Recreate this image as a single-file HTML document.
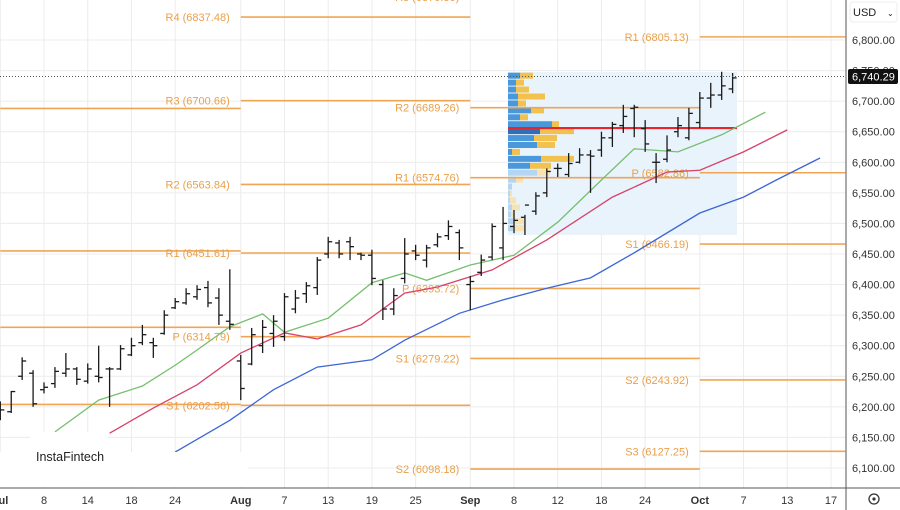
<!DOCTYPE html>
<html><head><meta charset="utf-8"><style>
html,body{margin:0;padding:0;background:#fff;}
body{width:900px;height:510px;overflow:hidden;font-family:"Liberation Sans",sans-serif;}
svg{display:block}
</style></head><body>
<svg id="chart" width="900" height="510" viewBox="0 0 900 510" xmlns="http://www.w3.org/2000/svg"></svg>
<script>
const highs=[6209,6226,6281,6260,6240,6265,6288,6265,6271,6300,6265,6301,6313,6334,6313,6358,6378,6394,6399,6406,6394,6425,6285,6329,6342,6350,6386,6391,6404,6445,6478,6473,6478,6452,6457,6407,6394,6476,6465,6465,6484,6505,6490,6414,6449,6500,6527,6522,6514,6551,6590,6598,6615,6623,6620,6650,6666,6694,6694,6669,6615,6644,6674,6689,6715,6730,6748,6746];
const lows=[6178,6190,6244,6200,6222,6231,6249,6236,6238,6240,6200,6260,6283,6301,6280,6318,6360,6367,6375,6363,6334,6326,6211,6268,6288,6298,6308,6353,6370,6383,6443,6443,6440,6440,6399,6342,6350,6402,6440,6428,6461,6473,6440,6358,6414,6440,6440,6484,6481,6514,6543,6576,6576,6598,6550,6609,6625,6648,6641,6617,6566,6600,6641,6636,6656,6689,6702,6713];
const opens=[6200,6192,6250,6255,6228,6238,6255,6262,6242,6250,6262,6262,6285,6305,6305,6320,6362,6370,6380,6395,6378,6340,6275,6270,6300,6320,6315,6360,6385,6395,6450,6468,6470,6450,6448,6400,6360,6410,6455,6440,6465,6480,6485,6400,6420,6445,6460,6495,6510,6520,6550,6590,6580,6600,6612,6620,6640,6660,6688,6655,6600,6605,6650,6640,6665,6705,6710,6720];
const closes=[6195,6225,6275,6205,6232,6258,6262,6245,6262,6248,6262,6295,6300,6318,6300,6350,6372,6385,6392,6370,6350,6335,6230,6318,6330,6340,6380,6378,6398,6440,6470,6450,6462,6448,6410,6360,6382,6450,6448,6460,6478,6495,6460,6405,6440,6495,6500,6505,6530,6545,6585,6590,6598,6612,6610,6640,6662,6675,6690,6630,6600,6620,6660,6680,6705,6710,6725,6738];
const dateIdx=[0,4,8,12,16,22,26,30,34,38,43,47,51,55,59,64,68,72,76];
const dateLbl=["Jul","8","14","18","24","Aug","7","13","19","25","Sep","8","12","18","24","Oct","7","13","17"];
const priceTicks=[6800,6750,6700,6650,6600,6550,6500,6450,6400,6350,6300,6250,6200,6150,6100];
const greenIdx=[5,9,13,16,18,21,24,26,30,34,37,39,43,45,47,51,55,58,62,66,70];
const greenVal=[6159,6211,6234,6268,6293,6331,6352,6322,6345,6403,6419,6407,6432,6440,6448,6502,6571,6622,6617,6645,6682];
const redIdx=[10,14,18,22,26,29,33,37,40,45,50,56,61,64,68,72];
const redVal=[6157,6198,6236,6288,6321,6311,6334,6386,6396,6424,6473,6543,6584,6587,6617,6653];
const blueIdx=[16,21,25,29,34,37,42,46,50,54,58,64,68,71,75];
const blueVal=[6126,6178,6228,6265,6277,6309,6353,6375,6394,6411,6452,6517,6543,6571,6607];
// pivot segments: [startIdx,endIdx]
const pivSegs=[[0,22],[22,43],[43,64],[64,77.3]];
const pivNames=[["R3","R1","P","S1","S2"],["R4","R3","R2","R1","P","S1"],["R3","R2","R1","P","S1","S2"],["R1","P","S1","S2","S3"]];
const pivVals=[[6688,6455,6330,6204,6098],[6837.48,6700.66,6563.84,6451.61,6314.79,6202.56],[6870.30,6689.26,6574.76,6393.72,6279.22,6098.18],[6805.13,6582.86,6466.19,6243.92,6127.25]];
const vpBlue=[12,8,8,10,10,23,12,44,32,26,29,4,33,22,29,8,4,2,2,4,3,6,5];
const vpYellow=[13,8,13,27,8,13,8,7,34,23,18,8,33,21,13,7,0,2,6,8,3,10,12];
const lastPrice=6740.29, pocPrice=6656;

const svg=document.getElementById('chart');
const NS='http://www.w3.org/2000/svg';
const X=i=>0.3+i*10.93;
const Y=v=>40+(6800-v)*0.6114;
function mk(tag,attrs,parent){const e=document.createElementNS(NS,tag);for(const k in attrs)e.setAttribute(k,attrs[k]);(parent||svg).appendChild(e);return e;}
const PR=846;
// grid
const grid=mk('g',{});


priceTicks.forEach(v=>mk('line',{x1:0,x2:PR,y1:Y(v),y2:Y(v),stroke:'#ececec','stroke-width':1},grid));
dateIdx.forEach(i=>mk('line',{x1:X(i),x2:X(i),y1:0,y2:488,stroke:'#ececec','stroke-width':1},grid));
// volume profile
const vp=mk('g',{});


mk('rect',{x:508,y:72,width:229,height:163,fill:'#e9f3fc'},vp);
vpBlue.forEach((b,r)=>{
 const y=72.7+r*6.93, light=r>=14;
 const rb=mk('rect',{x:508,y:y,width:b,height:6,fill:light?'#b5d6f2':(r==8?'#2d6fb8':'#4a98dc')},vp);
 
 
 const ry=mk('rect',{x:508+b,y:y,width:vpYellow[r],height:6,fill:light?'#f6e3b4':'#f2c14e'},vp);
 
 
});
// pivots
pivSegs.forEach((s,si)=>{
 pivVals[si].forEach((v,k)=>{
  const g=mk('g',{});
  
  
  mk('line',{x1:X(s[0]),x2:X(s[1]),y1:Y(v),y2:Y(v),stroke:'#f0a555','stroke-width':1.6},g);
  if(si>0){const t=mk('text',{x:X(s[0])-11,y:Y(v)+4,'text-anchor':'end','font-size':'11px',fill:'#e9a04b'},g);t.textContent=pivNames[si][k]+' ('+v.toFixed(2)+')';}
 });
});
// POC
const poc=mk('line',{x1:508,x2:737,y1:Y(pocPrice),y2:Y(pocPrice),stroke:'#e8252a','stroke-width':2.2});


// MAs
function ma(idx,vals,col,name){const p=mk('polyline',{points:idx.map((i,k)=>X(i)+','+Y(vals[k])).join(' '),fill:'none',stroke:col,'stroke-width':1.3});
 
 }
ma(greenIdx,greenVal,'#76bf6f','ma-fast');
ma(redIdx,redVal,'#d8416a','ma-medium');
ma(blueIdx,blueVal,'#3d66d6','ma-slow');
// bars
const bars=mk('g',{stroke:'#1a1a1a','stroke-width':1.3});


highs.forEach((h,i)=>{const x=X(i);const g=mk('g',{},bars);
 
 
 mk('line',{x1:x,x2:x,y1:Y(h),y2:Y(lows[i])},g);
 mk('line',{x1:x-4,x2:x,y1:Y(opens[i]),y2:Y(opens[i])},g);
 mk('line',{x1:x,x2:x+4,y1:Y(closes[i]),y2:Y(closes[i])},g);});
// last price line
const lp=mk('line',{x1:0,x2:PR,y1:Y(lastPrice),y2:Y(lastPrice),stroke:'#555','stroke-width':1,'stroke-dasharray':'1,2'});


// logo overlay
const lg=mk('g',{});


mk('rect',{x:0,y:452,width:248,height:35,fill:'#fff'},lg);
mk('rect',{x:30,y:432,width:78,height:40,fill:'#fff'},lg);
const lt=mk('text',{x:36,y:461,'font-size':'12.5px',fill:'#222'},lg);lt.textContent='InstaFintech';
// axes
mk('rect',{x:PR,y:0,width:54,height:510,fill:'#fff'});
const ya=mk('g',{});


mk('line',{x1:PR,x2:PR,y1:0,y2:510,stroke:'#555','stroke-width':1},ya);
priceTicks.forEach(v=>{const t=mk('text',{x:852,y:Y(v)+4,'font-size':'11px',fill:'#333'},ya);
 
 
 t.textContent=v.toLocaleString('en-US',{minimumFractionDigits:2});});
const tag=mk('g',{});


mk('rect',{x:848,y:Y(lastPrice)-7.5,width:50,height:15,fill:'#111',rx:2},tag);
const tt=mk('text',{x:852,y:Y(lastPrice)+4,'font-size':'11px',fill:'#fff'},tag);tt.textContent=lastPrice.toLocaleString('en-US',{minimumFractionDigits:2});
const cur=mk('g',{});


mk('rect',{x:850,y:2,width:47,height:20,fill:'#fff',stroke:'#eee',rx:3},cur);
const ct=mk('text',{x:853,y:16,'font-size':'11px',fill:'#222'},cur);ct.textContent='USD';
const cc=mk('text',{x:887,y:16,'font-size':'8px',fill:'#222'},cur);cc.textContent='⌄';
mk('line',{x1:0,x2:900,y1:488,y2:488,stroke:'#555','stroke-width':1});
const xa=mk('g',{});


dateIdx.forEach((i,k)=>{const bold=isNaN(+dateLbl[k]);const t=mk('text',{x:X(i),y:504,'text-anchor':'middle','font-size':'11px',fill:'#333','font-weight':bold?'bold':'normal'},xa);
 
 
 t.textContent=dateLbl[k];});
const gear=mk('g',{});


mk('circle',{cx:874,cy:499,r:5,fill:'none',stroke:'#333','stroke-width':1.3},gear);
mk('circle',{cx:874,cy:499,r:1.6,fill:'#333'},gear);
</script>
</body></html>
